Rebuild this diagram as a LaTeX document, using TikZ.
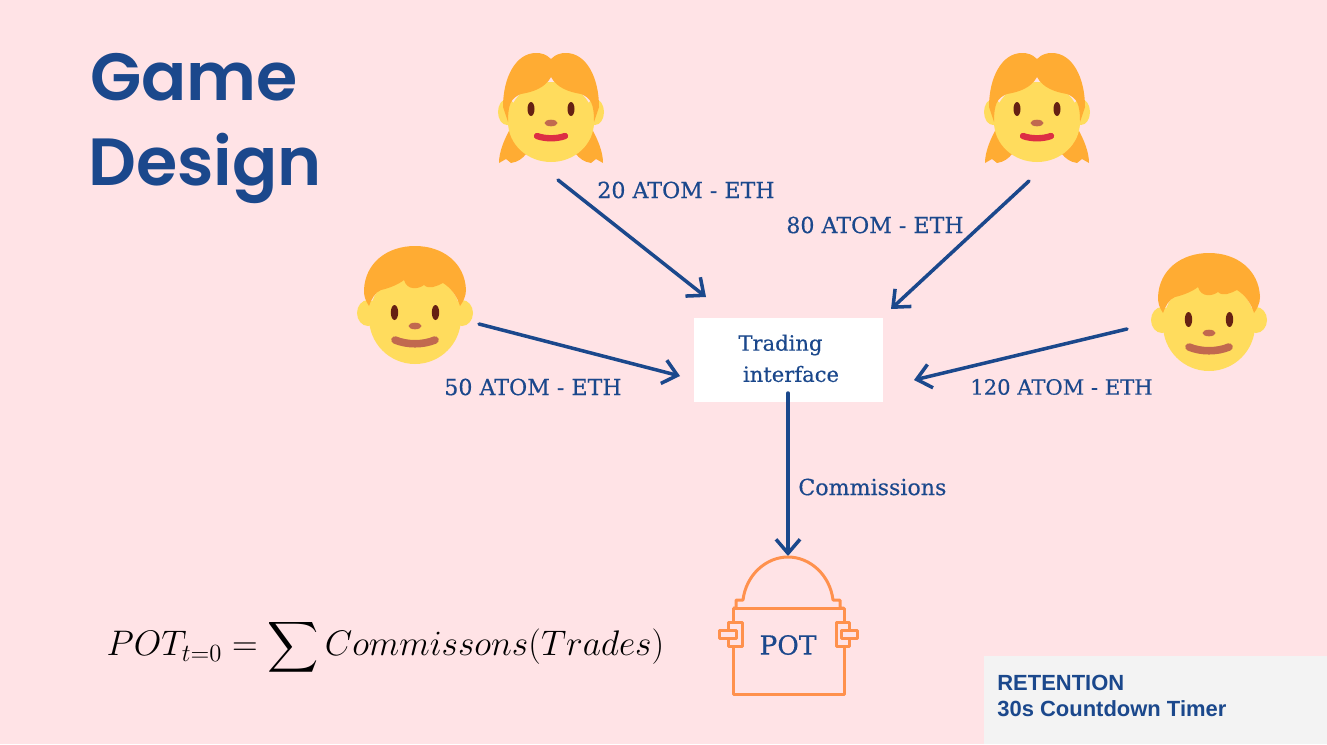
\documentclass[tikz,border=0pt]{standalone}
\usepackage{amsmath}
\usepackage[no-math]{fontspec}
\setmainfont[RawFeature={embolden=0.4}]{DejaVu Serif}
\newfontfamily\titlefont{Poppins SemiBold}
\newfontfamily\infofont{Liberation Sans}
\usetikzlibrary{arrows.meta,positioning}
\definecolor{blush}{RGB}{255,227,230}
\definecolor{inkblue}{RGB}{27,72,140}
\definecolor{potorange}{RGB}{255,145,77}
\definecolor{hair}{RGB}{255,172,51}
\definecolor{skin}{RGB}{255,220,93}
\definecolor{eye}{RGB}{102,33,19}
\definecolor{nose}{RGB}{193,105,79}
\definecolor{lips}{RGB}{221,46,68}
\definecolor{panel}{RGB}{243,243,243}
\tikzset{
  label/.style={text=inkblue,font=\fontsize{12.6}{15}\selectfont,inner sep=0pt},
  small/.style={label,font=\fontsize{12}{15}\selectfont},
  trade/.style={-{Straight Barb[length=2.8mm,width=4.8mm]},draw=inkblue,line width=2pt,line cap=round},
  title/.style={text=inkblue,font=\titlefont\fontsize{38}{44}\selectfont,inner sep=0pt,anchor=base},
  iface/.style={fill=white,minimum width=3.78cm,minimum height=1.68cm,inner sep=0pt},
  potline/.style={draw=potorange,line width=1.7pt,line join=round},
  girl/.pic={
    \fill[hair] (-41,7) .. controls (-47,18) and (-52,30) .. (-52,41) -- (-45,37) -- (-40,41) .. controls (-33,40) and (-28,36) .. (-25,32) -- cycle;
    \fill[hair] (41,7) .. controls (47,18) and (52,30) .. (52,41) -- (45,37) -- (40,41) .. controls (33,40) and (28,36) .. (25,32) -- cycle;
    \fill[skin] (-44,-10) ellipse (9 and 13);
    \fill[skin] (44,-10) ellipse (9 and 13);
    \fill[skin] (0,0) ellipse (43 and 40);
    \fill[hair] (0,-63) .. controls (-5,-68) and (-10,-69) .. (-15,-69) .. controls (-35,-69) and (-48,-45) .. (-48,-15) -- (-43,0) .. controls (-43,-18) and (-40,-24) .. (-30,-28) .. controls (-18,-30) and (-6,-34) .. (0,-45) .. controls (6,-34) and (18,-30) .. (30,-28) .. controls (40,-24) and (43,-18) .. (43,0) -- (48,-15) .. controls (48,-45) and (35,-69) .. (15,-69) .. controls (10,-69) and (5,-68) .. (0,-63) -- cycle;
    \fill[eye] (-20,-13) ellipse (3.5 and 7);
    \fill[eye] (20,-13) ellipse (3.5 and 7);
    \fill[nose] (0,1) ellipse (6.5 and 3.3);
    \draw[lips,line width=3.6pt,line cap=round] (-14,14) .. controls (-6,17) and (6,17) .. (14,14);
  },
  boy/.pic={
    \fill[skin] (-47,-5) ellipse (11 and 13);
    \fill[skin] (47,-5) ellipse (11 and 13);
    \fill[skin] (0,0) circle (46);
    \fill[hair] (-46,-12) .. controls (-50,-18) and (-51,-22) .. (-51,-28) .. controls (-50,-55) and (-28,-72) .. (0,-72) .. controls (28,-72) and (50,-55) .. (51,-28) .. controls (51,-22) and (48,-16) .. (45,-12) .. controls (42,-22) and (36,-30) .. (28,-35) .. controls (22,-32) and (14,-28) .. (9,-33) .. controls (4,-29) and (-8,-27) .. (-11,-38) .. controls (-16,-34) and (-25,-30) .. (-34,-28) .. controls (-40,-26) and (-44,-18) .. (-46,-12) -- cycle;
    \fill[eye] (-20.5,-5.5) ellipse (3.7 and 7.5);
    \fill[eye] (20.5,-5.5) ellipse (3.7 and 7.5);
    \fill[nose] (0,8) ellipse (6.5 and 3.3);
    \draw[nose,line width=4.3pt,line cap=round] (-20,22) .. controls (-8,27) and (8,27) .. (20,22);
  }
}
\begin{document}
\begin{tikzpicture}[x=0.02cm,y=-0.02cm]
  \useasboundingbox[fill=blush] (0,0) rectangle (1327,744);
  \node[title] (game) at (194,100) {Game};
  \node[title] (design) at (205,185) {Design};
  % players
  \pic at (551,122) {girl};
  \pic at (1037,122) {girl};
  \pic at (415,318) {boy};
  \pic at (1209,325) {boy};
  \coordinate (girlA) at (558,180);
  \coordinate (girlB) at (1029,181);
  \coordinate (boyA) at (479,324);
  \coordinate (boyB) at (1127,329);
  % interface and pot
  \node[iface] (iface) at (788.5,360) {};
  \node[small] (trading) at (780.5,345) {Trading};
  \node[small] (interface) at (791,374) {interface};
  \coordinate (ifaceA) at (706,297);
  \coordinate (ifaceB) at (891,309);
  \coordinate (ifaceC) at (680,376);
  \coordinate (ifaceD) at (914,380);
  \coordinate (ifaceOut) at (788,393);
  \coordinate (potTop) at (788,556);
  \draw[trade] (girlA)--(ifaceA);
  \draw[trade] (girlB)--(ifaceB);
  \draw[trade] (boyA)--(ifaceC);
  \draw[trade] (boyB)--(ifaceD);
  \draw[trade] (ifaceOut)--(potTop);
  \node[label] (lblA) at (686,190) {20 ATOM - ETH};
  \node[label] (lblB) at (875,225) {80 ATOM - ETH};
  \node[label] (lblC) at (533,387) {50 ATOM - ETH};
  \node[small] (lblD) at (1061.5,387) {120 ATOM - ETH};
  \node[label,right] (lblE) at (798,487) {Commissions};
  \draw[potline] (733,608) rectangle (844,694);
  \draw[potline] (733,608) -- (736,608) -- (736,600) -- (743,600) .. controls (746,575) and (766,557) .. (788,557) .. controls (810,557) and (830,575) .. (833,600) -- (840,600) -- (840,608) -- (844,608);
  \draw[potline,fill=blush] (728,622) rectangle (742,646);
  \draw[potline,fill=blush] (719,630) rectangle (736,638);
  \draw[potline,fill=blush] (836,622) rectangle (849,646);
  \draw[potline,fill=blush] (841,630) rectangle (857,638);
  \node[text=inkblue,font=\fontsize{15}{18}\selectfont,inner sep=0pt] (pot) at (788,645) {POT};
  % formula and note
  \node[inner sep=0pt,font=\fontsize{20}{24}\selectfont,scale=0.975,transform shape] (formula) at (385.5,647) {$\displaystyle POT_{t=0} = \sum Commissons(Trades)$};
  \fill[panel] (984,656) rectangle (1327,744);
  \node[text=inkblue,font=\infofont\bfseries\fontsize{12.5}{15}\selectfont,align=left,anchor=west,inner sep=0pt] (note) at (997,696) {RETENTION\\30s Countdown Timer};
\end{tikzpicture}
\end{document}
